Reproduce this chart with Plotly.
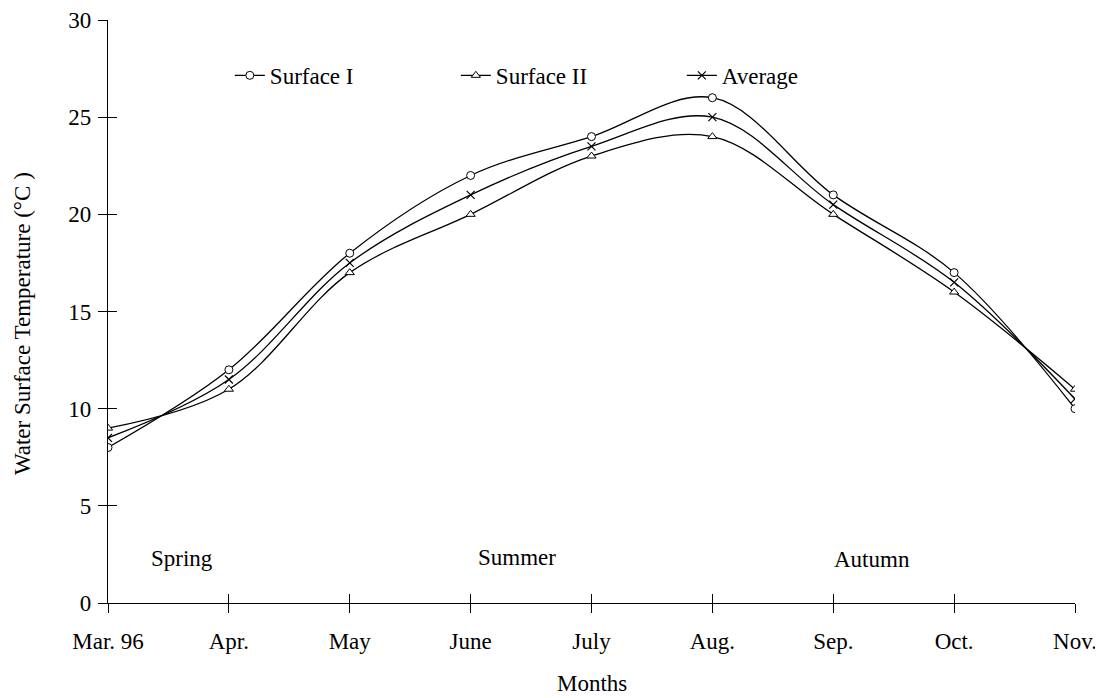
import plotly.graph_objects as go

months = ["Mar. 96", "Apr.", "May", "June", "July", "Aug.", "Sep.", "Oct.", "Nov."]
surface1 = [8, 12, 18, 22, 24, 26, 21, 17, 10]
surface2 = [9, 11, 17, 20, 23, 24, 20, 16, 11]
average = [8.5, 11.5, 17.5, 21, 23.5, 25, 20.5, 16.5, 10.5]
seasons = ["Spring", "Summer", "Autumn"]
season_x = [0.61, 3.38, 6.32]
season_y = [2.3, 2.35, 2.25]
yticks = [0, 5, 10, 15, 20, 25, 30]

FONT = "Liberation Serif, Times New Roman, serif"
FS = 23
xi = list(range(len(months)))

fig = go.Figure()
specs = [
    ("Surface I", surface1, dict(symbol="circle", size=8, color="white", line=dict(color="black", width=1))),
    ("Surface II", surface2, dict(symbol="triangle-up", size=8, color="white", line=dict(color="black", width=1))),
    ("Average", average, dict(symbol="x-thin", size=8, color="black", line=dict(color="black", width=1.2))),
]
for name, vals, mk in specs:
    fig.add_trace(go.Scatter(
        x=xi, y=vals, name=name, mode="lines+markers",
        line=dict(color="black", width=1.3, shape="spline", smoothing=1.0),
        marker=mk,
    ))

# invisible trace on overlay axes for crossing ticks
fig.add_trace(go.Scatter(x=[0], y=[0], xaxis="x2", yaxis="y2", mode="markers",
                         marker=dict(opacity=0), showlegend=False, hoverinfo="skip"))

for s, sx, sy in zip(seasons, season_x, season_y):
    fig.add_annotation(x=sx, y=sy, text=s, showarrow=False,
                       font=dict(family=FONT, size=FS, color="black"))

fig.add_annotation(xref="paper", yref="paper", x=0.5005, y=-0.138, text="Months",
                   xanchor="center", yanchor="middle",
                   showarrow=False, font=dict(family=FONT, size=FS, color="black"))
fig.add_annotation(xref="paper", yref="paper", x=-0.089, y=0.48,
                   xanchor="center", yanchor="middle",
                   text="Water Surface Temperature (°C )", textangle=-90,
                   showarrow=False, font=dict(family=FONT, size=FS, color="black"))

fig.update_layout(
    width=1095, height=690,
    margin=dict(l=100, r=28, t=12, b=95),
    paper_bgcolor="white", plot_bgcolor="white",
    font=dict(family=FONT, size=FS, color="black"),
    showlegend=True,
    legend=dict(orientation="h", x=0.126, y=0.905, xanchor="left", yanchor="middle",
                entrywidth=181, entrywidthmode="pixels", bgcolor="rgba(0,0,0,0)",
                font=dict(family=FONT, size=FS), itemwidth=30),
    xaxis=dict(range=[0, 8], tickmode="array", tickvals=xi, ticktext=months,
               showgrid=False, zeroline=False, showline=True, linecolor="black", linewidth=1.3,
               ticks="outside", ticklen=9, tickcolor="black", tickwidth=1.3, automargin=False,
               ticklabelstandoff=8, ticklabeloverflow="allow"),
    yaxis=dict(range=[0, 30], tickmode="array", tickvals=yticks,
               showgrid=False, zeroline=False, showline=True, linecolor="black", linewidth=1.3,
               ticks="outside", ticklen=9, tickcolor="black", tickwidth=1.3, automargin=False,
               ticklabelstandoff=2, ticklabeloverflow="allow"),
    xaxis2=dict(range=[0, 8], overlaying="x", anchor="y2", tickmode="array", tickvals=xi,
                showticklabels=False, showgrid=False, zeroline=False, showline=False,
                ticks="inside", ticklen=9, tickcolor="black", tickwidth=1.3, side="bottom"),
    yaxis2=dict(range=[0, 30], overlaying="y", anchor="x2", tickmode="array",
                tickvals=yticks, showticklabels=False, showgrid=False,
                zeroline=False, showline=False, ticks="inside", ticklen=9, tickcolor="black",
                tickwidth=1.3, side="left"),
)

fig.write_html("out.html")
